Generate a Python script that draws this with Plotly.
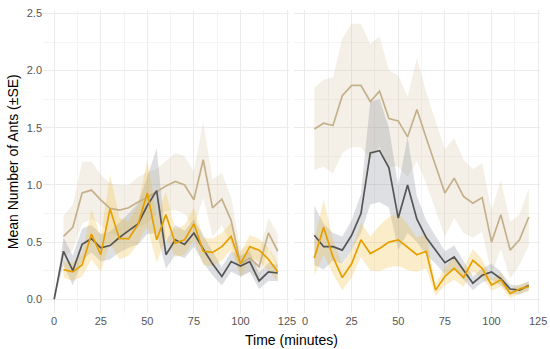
import plotly.graph_objects as go

# ---------------- data ----------------
t_all = [0, 5, 10, 15, 20, 25, 30, 35, 40, 45, 50, 55, 60, 65, 70, 75, 80, 85, 90, 95, 100, 105, 110, 115, 120]
t5 = t_all[1:]

# Left panel
left_dark = [0.0, 0.42, 0.25, 0.48, 0.53, 0.45, 0.47, 0.54, 0.60, 0.66, 0.82, 0.95, 0.39, 0.52, 0.48, 0.58, 0.44, 0.31, 0.20, 0.33, 0.29, 0.33, 0.16, 0.24, 0.23]
left_dark_se = [0.0, 0.12, 0.13, 0.14, 0.12, 0.12, 0.12, 0.13, 0.15, 0.18, 0.25, 0.37, 0.12, 0.13, 0.12, 0.12, 0.12, 0.10, 0.08, 0.09, 0.09, 0.09, 0.07, 0.08, 0.07]
left_tan = [0.55, 0.63, 0.93, 0.955, 0.87, 0.795, 0.78, 0.80, 0.85, 0.89, 0.94, 0.99, 1.03, 1.00, 0.87, 1.22, 0.80, 0.875, 0.69, 0.31, 0.36, 0.285, 0.58, 0.42]
left_tan_se = [0.18, 0.20, 0.27, 0.25, 0.22, 0.22, 0.22, 0.20, 0.22, 0.22, 0.20, 0.22, 0.25, 0.25, 0.25, 0.33, 0.25, 0.23, 0.20, 0.12, 0.12, 0.12, 0.13, 0.15]
left_orange = [0.26, 0.24, 0.30, 0.57, 0.39, 0.79, 0.53, 0.53, 0.655, 0.93, 0.52, 0.74, 0.49, 0.52, 0.66, 0.42, 0.41, 0.46, 0.55, 0.31, 0.46, 0.43, 0.35, 0.24]
left_orange_se = [0.07, 0.08, 0.10, 0.22, 0.15, 0.30, 0.18, 0.15, 0.17, 0.29, 0.20, 0.20, 0.12, 0.13, 0.14, 0.12, 0.12, 0.12, 0.12, 0.10, 0.10, 0.10, 0.10, 0.08]

# Right panel
right_dark = [0.56, 0.46, 0.46, 0.43, 0.56, 0.75, 1.28, 1.30, 1.15, 0.71, 1.00, 0.70, 0.54, 0.43, 0.32, 0.37, 0.26, 0.14, 0.21, 0.24, 0.18, 0.09, 0.08, 0.12]
right_dark_se = [0.26, 0.20, 0.12, 0.12, 0.13, 0.17, 0.45, 0.45, 0.35, 0.28, 0.42, 0.20, 0.15, 0.12, 0.10, 0.10, 0.08, 0.06, 0.06, 0.07, 0.06, 0.04, 0.04, 0.04]
right_tan = [1.49, 1.54, 1.52, 1.78, 1.87, 1.87, 1.73, 1.82, 1.58, 1.56, 1.42, 1.66, 1.41, 1.17, 0.93, 1.06, 0.90, 0.84, 0.89, 0.50, 0.74, 0.43, 0.52, 0.72]
right_tan_se = [0.36, 0.38, 0.42, 0.50, 0.54, 0.54, 0.50, 0.48, 0.42, 0.40, 0.35, 0.45, 0.40, 0.38, 0.38, 0.35, 0.32, 0.30, 0.30, 0.28, 0.30, 0.25, 0.22, 0.25]
right_orange = [0.36, 0.63, 0.37, 0.19, 0.31, 0.52, 0.40, 0.445, 0.50, 0.52, 0.455, 0.39, 0.42, 0.08, 0.20, 0.27, 0.19, 0.34, 0.27, 0.125, 0.17, 0.05, 0.09, 0.11]
right_orange_se = [0.15, 0.24, 0.15, 0.11, 0.12, 0.15, 0.15, 0.20, 0.22, 0.23, 0.20, 0.15, 0.15, 0.05, 0.08, 0.10, 0.08, 0.10, 0.08, 0.05, 0.06, 0.04, 0.04, 0.04]

x_ticks = [0, 25, 50, 75, 100, 125]
y_ticks = [0.0, 0.5, 1.0, 1.5, 2.0, 2.5]
y_tick_labels = ["0.0", "0.5", "1.0", "1.5", "2.0", "2.5"]

# ---------------- style ----------------
TAN = "#c4b08a"
TAN_FILL = "rgba(200,180,140,0.2)"
DARK = "#555555"
DARK_FILL = "rgba(120,128,140,0.25)"
ORANGE = "#e69f00"
ORANGE_FILL = "rgba(240,185,40,0.25)"

fig = go.Figure()


def ribbon(x, y, se, fill, xa, ya):
    up = [a + b for a, b in zip(y, se)]
    lo = [a - b for a, b in zip(y, se)]
    fig.add_trace(go.Scatter(x=list(x) + list(x)[::-1], y=up + lo[::-1], fill="toself",
                             fillcolor=fill, line=dict(width=0), mode="lines",
                             hoverinfo="skip", showlegend=False, xaxis=xa, yaxis=ya))


def line(x, y, color, xa, ya):
    fig.add_trace(go.Scatter(x=x, y=y, mode="lines", line=dict(color=color, width=1.7),
                             showlegend=False, xaxis=xa, yaxis=ya))


# left panel
ribbon(t5, left_tan, left_tan_se, TAN_FILL, "x", "y")
ribbon(t_all, left_dark, left_dark_se, DARK_FILL, "x", "y")
ribbon(t5, left_orange, left_orange_se, ORANGE_FILL, "x", "y")
line(t5, left_tan, TAN, "x", "y")
line(t_all, left_dark, DARK, "x", "y")
line(t5, left_orange, ORANGE, "x", "y")

# right panel
ribbon(t5, right_tan, right_tan_se, TAN_FILL, "x2", "y2")
ribbon(t5, right_dark, right_dark_se, DARK_FILL, "x2", "y2")
ribbon(t5, right_orange, right_orange_se, ORANGE_FILL, "x2", "y2")
line(t5, right_tan, TAN, "x2", "y2")
line(t5, right_dark, DARK, "x2", "y2")
line(t5, right_orange, ORANGE, "x2", "y2")

L, R, T, B = 43, 10, 10, 36
W, H = 550, 349
pw = W - L - R
d1 = (288.9 - L) / pw
d2 = (293.8 - L) / pw

tickfont = dict(family="Liberation Sans, Arial, sans-serif", size=11, color="#555555")
xcommon = dict(range=[-6, 126], tickvals=x_ticks, ticks="", showline=False, zeroline=False,
               automargin=False,
               gridcolor="#ebebeb", gridwidth=1, tickfont=tickfont,
               minor=dict(dtick=12.5, tick0=0, showgrid=True, gridcolor="#f4f4f4", gridwidth=0.6))
ycommon = dict(range=[-0.12, 2.53], tickvals=y_ticks, ticktext=y_tick_labels, ticks="",
               showline=False, zeroline=False, automargin=False,
               gridcolor="#ebebeb", gridwidth=1, tickfont=tickfont,
               minor=dict(dtick=0.25, tick0=0, showgrid=True, gridcolor="#f4f4f4", gridwidth=0.6))

fig.update_layout(
    width=W, height=H,
    margin=dict(l=L, r=R, t=T, b=B, autoexpand=False),
    paper_bgcolor="white", plot_bgcolor="white",
    showlegend=False,
    xaxis=dict(domain=[0, d1], anchor="y", **xcommon),
    xaxis2=dict(domain=[d2, 1], anchor="y2", **xcommon),
    yaxis=dict(domain=[0, 1], anchor="x", **ycommon),
    yaxis2=dict(domain=[0, 1], anchor="x2", showticklabels=False, **ycommon),
    annotations=[
        dict(text="Time (minutes)", xref="paper", yref="paper", x=0.5, y=-(340 - (H - B)) / (H - T - B),
             xanchor="center", yanchor="middle", showarrow=False,
             font=dict(family="Liberation Sans, Arial, sans-serif", size=14, color="black")),
        dict(text="Mean Number of Ants (±SE)", xref="paper", yref="paper", x=(12.7 - L) / pw, y=0.5,
             xanchor="center", yanchor="middle", textangle=-90, showarrow=False,
             font=dict(family="Liberation Sans, Arial, sans-serif", size=14, color="black")),
    ],
)

fig.write_html("out.html", config={"displayModeBar": False},
               post_script="document.body.style.margin='0';document.body.style.overflow='hidden';")
